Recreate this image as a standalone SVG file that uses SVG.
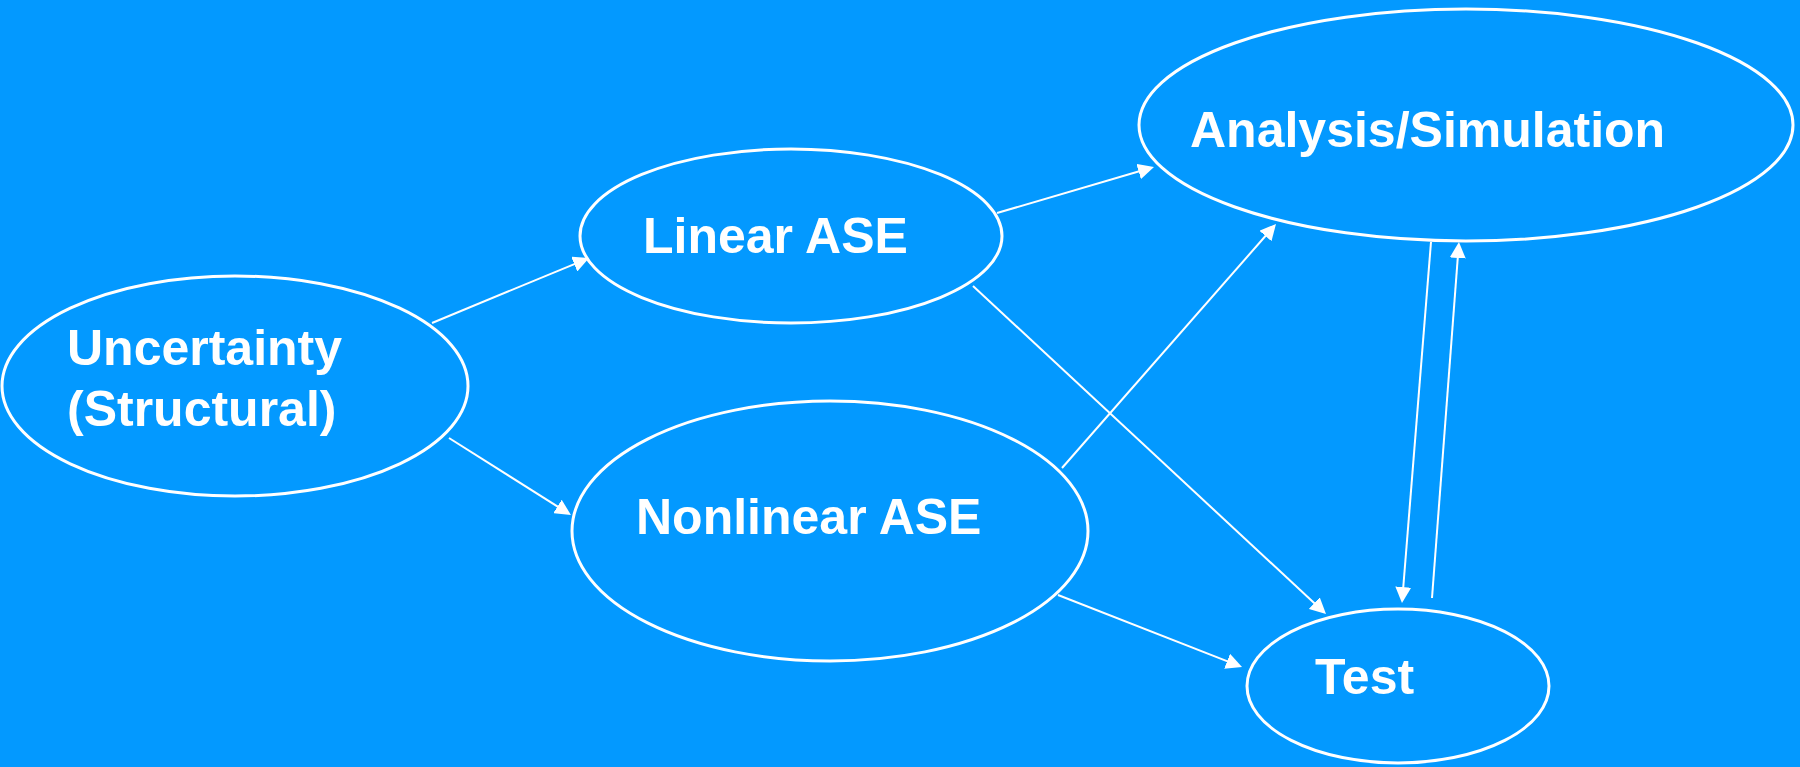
<svg xmlns="http://www.w3.org/2000/svg" width="1800" height="767" viewBox="0 0 1800 767">
<defs>
<marker id="ah" markerUnits="userSpaceOnUse" markerWidth="16" markerHeight="16" refX="6" refY="8" orient="auto">
<path d="M0,0 L16,8 L0,16 z" fill="#ffffff"/>
</marker>
<style>
.node ellipse{fill:none;stroke:#ffffff;stroke-width:3}
.node text{fill:#ffffff;font-family:"Liberation Sans",Arial,sans-serif;font-weight:bold;font-size:50px}
.edge{stroke:#ffffff;stroke-width:2;fill:none;marker-end:url(#ah)}
</style>
</defs>
<rect x="0" y="0" width="1800" height="767" fill="#0399ff"/>
<g id="connectors">
<line class="edge" x1="432" y1="323" x2="579.8" y2="261.8"/>
<line class="edge" x1="449" y1="438" x2="562.5" y2="509.7"/>
<line class="edge" x1="997" y1="213" x2="1144.4" y2="169.8"/>
<line class="edge" x1="973" y1="286" x2="1318.7" y2="607.2"/>
<line class="edge" x1="1062" y1="468" x2="1269.4" y2="231.5"/>
<line class="edge" x1="1058" y1="595" x2="1232.7" y2="663.4"/>
<line class="edge" x1="1431" y1="242" x2="1402.8" y2="593"/>
<line class="edge" x1="1432" y1="598" x2="1458.2" y2="252"/>
</g>
<g id="uncertainty" class="node">
<ellipse cx="235" cy="386" rx="233" ry="110"/>
<text x="67" y="365">Uncertainty</text>
<text x="67" y="426">(Structural)</text>
</g>
<g id="linear" class="node">
<ellipse cx="791" cy="236" rx="211" ry="87"/>
<text x="643" y="253">Linear ASE</text>
</g>
<g id="nonlinear" class="node">
<ellipse cx="830" cy="531" rx="258" ry="130"/>
<text x="636" y="534">Nonlinear ASE</text>
</g>
<g id="analysis" class="node">
<ellipse cx="1466" cy="125" rx="327" ry="116"/>
<text x="1190" y="147">Analysis/Simulation</text>
</g>
<g id="test" class="node">
<ellipse cx="1398" cy="686" rx="151" ry="77"/>
<text x="1315" y="694">Test</text>
</g>
</svg>
